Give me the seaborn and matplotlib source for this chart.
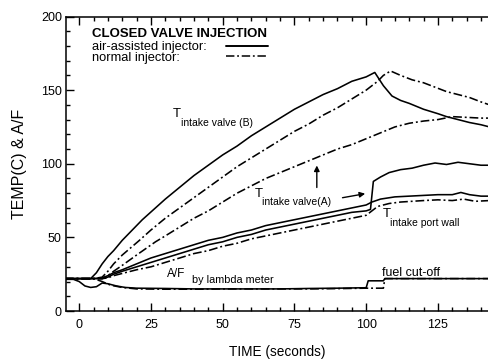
import matplotlib
matplotlib.use("Agg")
import matplotlib.pyplot as plt
import seaborn as sns
import pandas as pd
from matplotlib.lines import Line2D
from matplotlib.ticker import MultipleLocator

# ---------------- data ----------------
# T intake valve (B), air-assisted injector (solid)
t_valveB_air = [-5, 0, 4, 6, 8, 10, 12, 15, 18, 22, 26, 30, 35, 40, 45, 50, 55, 60, 65, 70,
                75, 80, 85, 90, 95, 100, 103, 106, 109, 112, 115, 120, 125, 128, 132, 136, 140, 143]
v_valveB_air = [22, 22, 22, 26, 32, 37, 41, 48, 54, 62, 69, 76, 84, 92, 99, 106, 112, 119, 125, 131,
                137, 142, 147, 151, 156, 159, 162, 153, 146, 143, 141, 137, 134, 132, 130, 128, 126.5, 125]

# T intake valve (B), normal injector (dash-dot)
t_valveB_norm = [-5, 0, 5, 8, 10, 12, 15, 18, 21, 25, 30, 35, 40, 45, 50, 55, 60, 65, 70, 75,
                 80, 85, 90, 95, 100, 104, 106, 108.5, 112, 116, 120, 124, 128, 132, 136, 140, 143]
v_valveB_norm = [22, 22, 22, 23, 27, 32, 38, 43, 48, 55, 63, 70, 77, 84, 91, 98, 104, 110, 116, 122,
                 127, 133, 138, 144, 150, 156, 160, 163, 160, 157, 155, 152, 149, 147, 145, 142, 140]

# T intake valve (A), normal injector (dash-dot)
t_valveA_norm = [-5, 0, 5, 8, 10, 12, 15, 20, 26.6, 30, 35, 40, 45, 50, 55, 60, 65, 70, 75, 80,
                 85, 90, 95, 100, 105, 110, 115, 120, 125, 130, 135, 140, 143]
v_valveA_norm = [22, 22, 22, 22, 24, 27, 31, 38, 47, 51, 57, 63, 68, 74, 80, 85, 90, 94, 98, 102,
                 106, 110, 113, 117, 121, 125, 127.5, 129, 130, 132, 131.5, 131, 131]

# T intake valve (A), air-assisted injector (solid, jumps at fuel cut-off)
t_valveA_air = [-5, 0, 5, 8, 10, 12, 15, 20, 25, 30, 35, 40, 45, 50, 55, 60, 65, 70, 75, 80, 85,
                90, 95, 100, 101.5, 102.5, 105, 108, 112, 116, 120, 124, 128, 132, 136, 140, 143]
v_valveA_air = [22, 22, 22, 22, 23, 25, 27, 30, 33, 36, 39, 42, 45, 47, 50, 52, 55, 57, 59, 61, 63,
                65, 67, 68, 69, 88, 91, 94, 96, 97, 99, 100.5, 99.5, 101, 100, 99, 99]

# T intake port wall, air-assisted injector (solid)
t_port_air = [-5, 0, 5, 8, 10, 12, 15, 20, 25, 30, 35, 40, 45, 50, 55, 60, 65, 70, 75, 80, 85,
              90, 95, 100, 102, 105, 110, 115, 120, 125, 130, 133, 136, 140, 143]
v_port_air = [22, 22, 22, 22.5, 24, 26, 28, 32, 36, 39, 42, 45, 48, 50, 53, 55, 58, 60, 62, 64, 66,
              68, 70, 72, 74, 76, 77.5, 78, 78.5, 79, 79, 80.5, 79, 78, 78]

# T intake port wall, normal injector (dash-dot)
t_port_norm = [-5, 0, 5, 8, 10, 12, 15, 20, 25, 30, 35, 40, 45, 50, 55, 60, 65, 70, 75, 80, 85,
               90, 95, 100, 102, 104, 108, 112, 116, 120, 125, 130, 134, 138, 143]
v_port_norm = [22, 22, 22, 22, 22.5, 24, 25.5, 28, 30, 33, 36, 39, 41, 44, 46, 49, 51, 53, 55, 57, 59,
               61, 63, 65, 68, 71, 73, 74, 74.5, 75, 75.5, 75, 76, 74.5, 75]

# A/F by lambda meter, air-assisted (solid)
t_af_air = [-5, -2, 0, 2, 4, 6, 8, 10, 13, 16, 20, 30, 40, 50, 60, 70, 80, 90, 100,
            100.7, 106, 106.5, 120, 143]
v_af_air = [21.5, 21.5, 20, 17, 16, 16.5, 19, 18.5, 17, 16, 15.5, 15.3, 15, 15, 15, 15, 15.3, 15.5, 15.8,
            20.5, 20.5, 22, 22, 22]

# A/F by lambda meter, normal injector (dash-dot)
t_af_norm = [-5, 5, 8, 11, 15, 20, 30, 40, 50, 60, 70, 80, 90, 100, 106, 106.5, 120, 143]
v_af_norm = [22, 22, 20, 17.5, 16, 15, 14.8, 14.8, 15, 15, 15, 15, 15.2, 15.5, 15.5, 22, 22, 22]

x_ticks = [0, 25, 50, 75, 100, 125]
y_ticks = [0, 50, 100, 150, 200]

# ---------------- style ----------------
sns.set_theme(style="ticks", rc={
    "axes.edgecolor": "black", "axes.labelcolor": "black", "text.color": "black",
    "xtick.color": "black", "ytick.color": "black", "axes.linewidth": 1.1,
})
plt.rcParams['font.family'] = ['Liberation Sans', 'DejaVu Sans']
plt.rcParams['mathtext.default'] = 'regular'

DASHDOT = (0, (5.5, 1.8, 1.2, 1.8))

fig = plt.figure(figsize=(4.89, 3.6), dpi=100)
ax = fig.add_axes([66 / 489, 1 - 311 / 360, 1 - 66 / 489, (311 - 16.5) / 360])

series = [
    (t_valveB_air, v_valveB_air, "-"),
    (t_valveB_norm, v_valveB_norm, DASHDOT),
    (t_valveA_norm, v_valveA_norm, DASHDOT),
    (t_valveA_air, v_valveA_air, "-"),
    (t_port_air, v_port_air, "-"),
    (t_port_norm, v_port_norm, DASHDOT),
    (t_af_air, v_af_air, "-"),
    (t_af_norm, v_af_norm, DASHDOT),
]
for t, v, ls in series:
    df = pd.DataFrame({"t": t, "v": v})
    sns.lineplot(data=df, x="t", y="v", ax=ax, color="black", lw=1.15,
                 linestyle=ls, estimator=None, sort=False, legend=False)

ax.set_xlim(-4.6, 142.8)
ax.set_ylim(0, 200)
ax.set_xticks(x_ticks)
ax.set_yticks(y_ticks)
ax.xaxis.set_minor_locator(MultipleLocator(5))
ax.yaxis.set_minor_locator(MultipleLocator(10))
ax.tick_params(which="both", direction="in", top=True, right=False, width=1.0, labelsize=9)
ax.tick_params(which="major", length=6)
ax.tick_params(which="minor", length=3)
ax.tick_params(axis="x", pad=6)
ax.tick_params(axis="y", pad=3)
ax.spines["right"].set_visible(False)

ax.set_xlabel("TIME (seconds)", fontsize=9.8, labelpad=10)
ax.set_ylabel("TEMP(C) & A/F", fontsize=11.5, labelpad=10)

# ---------------- legend ----------------
LEG_FS = 9.3
TPAD = 1.2
handles = [Line2D([], [], color="black", lw=1.4, ls="-"),
           Line2D([], [], color="black", lw=1.1, ls=DASHDOT)]
leg = ax.legend(handles, ["air-assisted injector:", "normal injector:"],
                title="CLOSED VALVE INJECTION", loc="upper left",
                bbox_to_anchor=(0.0615, 0.962), frameon=False, markerfirst=False,
                fontsize=LEG_FS, title_fontsize=9.5, handlelength=3.3, handletextpad=TPAD,
                labelspacing=-0.1, borderpad=0, borderaxespad=0, alignment="left")
leg.get_title().set_fontweight("bold")
leg._legend_box.sep = 1.0   # a little more room under the title

# left-align the labels while keeping the line samples in one column
fig.canvas.draw()
renderer = fig.canvas.get_renderer()
widths = [txt.get_window_extent(renderer).width for txt in leg.texts]
wmax = max(widths)
for col in leg._legend_handle_box.get_children():
    col.align = "left"
    for item, w in zip(col.get_children(), widths):
        item.sep = TPAD * LEG_FS + 2.5 + (wmax - w) * 72.0 / fig.dpi

# ---------------- annotations ----------------
lab = dict(color="black", ha="left", va="center")
ax.text(32.6, 133.6, "T", fontsize=9.5, **lab)
ax.text(35.4, 127.5, "intake valve (B)", fontsize=7.5, **lab)
ax.text(61.2, 79.3, "T", fontsize=9.5, **lab)
ax.text(63.6, 73.9, "intake valve(A)", fontsize=7.5, **lab)
ax.text(105.8, 66, "T", fontsize=9.5, **lab)
ax.text(108.2, 59.7, "intake port wall", fontsize=7.5, **lab)
ax.text(30.6, 25, "A/F", fontsize=8.5, **lab)
ax.text(39.3, 21, "by lambda meter", fontsize=7.8, **lab)
ax.text(105.5, 26, "fuel cut-off", fontsize=9, **lab)

arrow = dict(arrowstyle="-|>", color="black", lw=1.0, mutation_scale=8)
ax.annotate("", xy=(82.8, 100.7), xytext=(82.8, 82), arrowprops=arrow)
ax.annotate("", xy=(100.6, 80), xytext=(90.8, 76.6), arrowprops=arrow)

fig.savefig("out.png", dpi=100)
